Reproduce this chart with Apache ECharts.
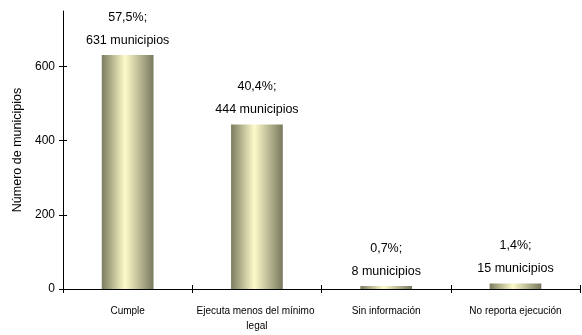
<!DOCTYPE html>
<html><head><meta charset="utf-8">
<script src="https://cdn.jsdelivr.net/npm/echarts@6/dist/echarts.min.js"></script>
<style>html,body{margin:0;padding:0;background:#fff}#c{width:582px;height:335px}</style>
</head><body><div id="c"></div>
<script>
var categories = ["Cumple", "Ejecuta menos del mínimo legal", "Sin información", "No reporta ejecución"];
var values = [631, 444, 8, 15];
var percents = ["57,5%", "40,4%", "0,7%", "1,4%"];
var yTicks = [0, 200, 400, 600];
var FONT = '"Liberation Sans", Arial, sans-serif';

var chart = echarts.init(document.getElementById('c'), null, {renderer: 'canvas'});
var grad = new echarts.graphic.LinearGradient(0, 0, 1, 0, [
  {offset: 0, color: '#7c7c60'},
  {offset: 0.45, color: '#fefbca'},
  {offset: 1, color: '#78785e'}
]);
chart.setOption({
  animation: false,
  grid: {left: 63, right: -6, top: 11, bottom: 46, containLabel: false},
  xAxis: [{
    type: 'category',
    data: categories,
    boundaryGap: true,
    axisLine: {lineStyle: {color: '#000', width: 1}},
    axisTick: {show: true, interval: 0, alignWithLabel: false, length: 4, lineStyle: {color: '#000'}},
    axisLabel: {interval: 0, color: '#000', fontFamily: FONT, fontSize: 10, margin: 15, width: 129, overflow: 'break', lineHeight: 15}
  }, {
    type: 'category',
    data: categories,
    position: 'bottom',
    boundaryGap: true,
    axisLine: {show: false},
    axisTick: {show: true, inside: true, interval: 0, length: 4, lineStyle: {color: '#000'}},
    axisLabel: {show: false}
  }],
  yAxis: [{
    type: 'value',
    min: 0, max: 750,
    name: 'Número de municipios',
    nameLocation: 'middle',
    nameGap: 30,
    nameTextStyle: {color: '#000', fontFamily: FONT, fontSize: 12.5},
    axisLine: {show: true, lineStyle: {color: '#000', width: 1}},
    axisTick: {show: true, length: 4, customValues: yTicks, lineStyle: {color: '#000'}},
    axisLabel: {color: '#000', fontFamily: FONT, fontSize: 12, margin: 8, customValues: yTicks},
    splitLine: {show: false}
  }, {
    type: 'value',
    min: 0, max: 750,
    position: 'left',
    axisLine: {show: false},
    axisTick: {show: true, inside: true, length: 4, customValues: yTicks, lineStyle: {color: '#000'}},
    axisLabel: {show: false},
    splitLine: {show: false}
  }],
  series: [{
    type: 'bar',
    xAxisIndex: 0,
    yAxisIndex: 0,
    data: values,
    barWidth: '40%',
    itemStyle: {color: grad},
    label: {
      show: true,
      position: 'top',
      distance: 3,
      color: '#000',
      fontFamily: FONT,
      fontSize: 12.5,
      lineHeight: 23,
      formatter: function (p) { return percents[p.dataIndex] + ';\n' + p.value + ' municipios'; }
    }
  }]
});
</script></body></html>
